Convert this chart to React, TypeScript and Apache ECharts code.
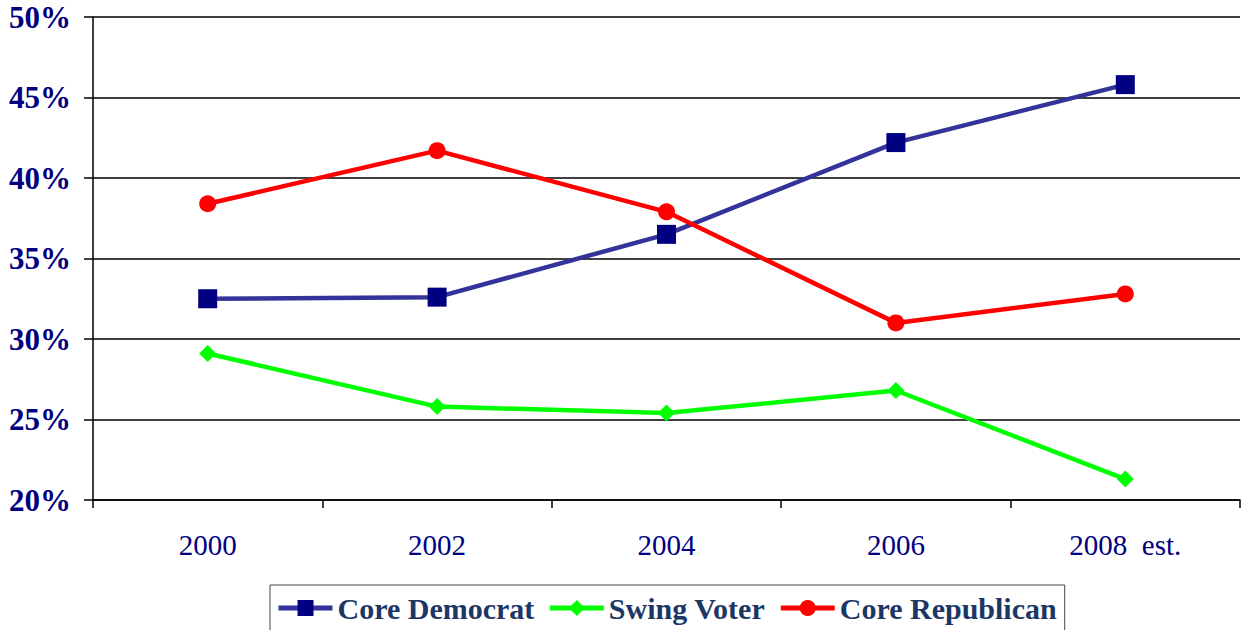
import React, { useEffect, useRef } from "react";
import * as echarts from "echarts";

const categories = ["2000", "2002", "2004", "2006", "2008\u00a0\u00a0est."];
const coreDemocrat = [32.5, 32.6, 36.5, 42.2, 45.8];
const swingVoter = [29.1, 25.8, 25.4, 26.8, 21.3];
const coreRepublican = [38.4, 41.7, 37.9, 31.0, 32.8];
const yTicks = { min: 20, max: 50, interval: 5 };

export default function App() {
  const ref = useRef<HTMLDivElement>(null);
  useEffect(() => {
    if (!ref.current) return;
    const chart = echarts.init(ref.current, null, { renderer: "svg" });
    const serif = "Liberation Serif";
    chart.setOption({
      animation: false,
      backgroundColor: "#fff",
      grid: { left: 93, right: 3, top: 17, bottom: 130, containLabel: false },
      xAxis: {
        type: "category",
        data: categories,
        boundaryGap: true,
        axisLine: { show: true, lineStyle: { color: "#000", width: 1.5 } },
        axisTick: { show: true, length: 8, lineStyle: { color: "#000", width: 1.5 } },
        axisLabel: { color: "#000080", fontFamily: serif, fontSize: 29, margin: 30 },
        splitLine: { show: false },
      },
      yAxis: {
        type: "value",
        min: yTicks.min,
        max: yTicks.max,
        interval: yTicks.interval,
        axisLine: { show: true, lineStyle: { color: "#000", width: 1.5 } },
        axisTick: { show: true, inside: false, length: 9, lineStyle: { color: "#000", width: 1.5 } },
        axisLabel: {
          formatter: "{value}%",
          color: "#000080",
          fontFamily: serif,
          fontWeight: "bold",
          fontSize: 31,
          margin: 22,
        },
        splitLine: { show: true, lineStyle: { color: "#000", width: 1.5 } },
      },
      legend: {
        left: 270,
        top: 585,
        padding: [8, 8, 8, 6],
        borderColor: "#444",
        borderWidth: 1,
        itemWidth: 54,
        itemHeight: 20,
        itemGap: 13,
        lineStyle: { width: 5 },
        textStyle: { color: "#1c3766", fontFamily: serif, fontWeight: "bold", fontSize: 30 },
        data: ["Core Democrat", "Swing Voter", "Core Republican"],
      },
      series: [
        {
          name: "Core Democrat",
          type: "line",
          data: coreDemocrat,
          symbol: "rect",
          symbolSize: 19,
          lineStyle: { color: "#333399", width: 4.5 },
          itemStyle: { color: "#000080" },
        },
        {
          name: "Swing Voter",
          type: "line",
          data: swingVoter,
          symbol: "diamond",
          symbolSize: 17,
          lineStyle: { color: "#00ff00", width: 4.5 },
          itemStyle: { color: "#00ff00" },
        },
        {
          name: "Core Republican",
          type: "line",
          data: coreRepublican,
          symbol: "circle",
          symbolSize: 17,
          lineStyle: { color: "#ff0000", width: 4.5 },
          itemStyle: { color: "#ff0000" },
        },
      ],
    });
    return () => chart.dispose();
  }, []);
  return (
    <div
      ref={ref}
      style={{ position: "fixed", left: 0, top: 0, width: 1243, height: 630, background: "#fff" }}
    />
  );
}
